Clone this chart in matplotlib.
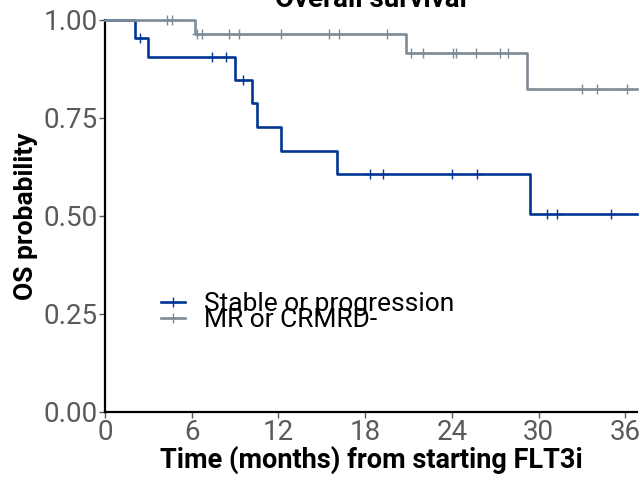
import matplotlib
matplotlib.use("Agg")
import matplotlib.pyplot as plt
import numpy as np

plt.rcParams['font.family'] = ['Roboto', 'DejaVu Sans']

# Kaplan-Meier steps (months, survival)
blue_label = "Stable or progression"
blue_times = [2.1, 2.95, 9.0, 10.2, 10.5, 12.2, 16.05, 29.4]
blue_surv = [0.955, 0.905, 0.848, 0.788, 0.727, 0.665, 0.606, 0.505]
blue_censor = [2.4, 7.4, 8.4, 9.55, 18.3, 19.2, 24.0, 25.7, 30.6, 31.3, 35.0]

grey_label = "MR or CRMRD-"
grey_times = [6.2, 20.8, 29.2]
grey_surv = [0.964, 0.915, 0.823]
grey_censor = [4.3, 4.6, 6.37, 6.7, 8.6, 9.3, 12.2, 15.5, 16.2, 19.5, 21.2,
               22.0, 24.1, 24.3, 25.65, 27.3, 27.9, 33.0, 34.0, 36.1]

x_ticks = [0, 6, 12, 18, 24, 30, 36]
y_ticks = [0.0, 0.25, 0.5, 0.75, 1.0]
x_max = 36.8

blue_col = "#003594"
grey_col = "#7D8B97"


def km_curve(ax, times, surv, censor, color, label):
    t = np.concatenate([[0], times, [x_max]])
    s = np.concatenate([[1.0], surv, [surv[-1]]])
    ax.step(t, s, where='post', color=color, lw=1.9, clip_on=False, zorder=3)
    idx = np.searchsorted(times, censor, side='right')
    cs = np.concatenate([[1.0], surv])[idx]
    ax.plot(censor, cs, ls='none', marker='+', ms=7, mew=1.0, color=color,
            clip_on=False, zorder=4)
    # legend handle
    ax.plot([], [], color=color, lw=1.9, marker='+', ms=7, mew=1.0, label=label)


fig = plt.figure(figsize=(6.4, 4.82), dpi=100)
ax = fig.add_axes([105 / 640, 1 - 412 / 482, (637 - 105) / 640, (412 - 20) / 482])

km_curve(ax, blue_times, blue_surv, blue_censor, blue_col, blue_label)
km_curve(ax, grey_times, grey_surv, grey_censor, grey_col, grey_label)

ax.set_xlim(0, x_max)
ax.set_ylim(0, 1.0)
ax.set_xticks(x_ticks)
ax.set_yticks(y_ticks)
ax.set_yticklabels([f"{v:.2f}" for v in y_ticks])
ax.tick_params(colors='#5a5a5a', labelsize=20, length=4, width=1, pad=1)
for side in ['top', 'right']:
    ax.spines[side].set_visible(False)
for side in ['left', 'bottom']:
    ax.spines[side].set_linewidth(1.6)

ax.set_xlabel("Time (months) from starting FLT3i", fontsize=19.5,
              fontweight='bold', labelpad=0)
ax.set_ylabel("OS probability", fontsize=19, fontweight='bold', labelpad=4)

leg = ax.legend(loc='upper left', bbox_to_anchor=(0.08, 0.34), frameon=False,
                fontsize=19, handlelength=0.9, handletextpad=0.75,
                labelspacing=-0.3, borderpad=0)

fig.text(0.58, 1 - 7 / 482, "Overall survival", ha='center', va='baseline',
         fontsize=20, fontweight='bold')

fig.savefig("out.png", dpi=100)
